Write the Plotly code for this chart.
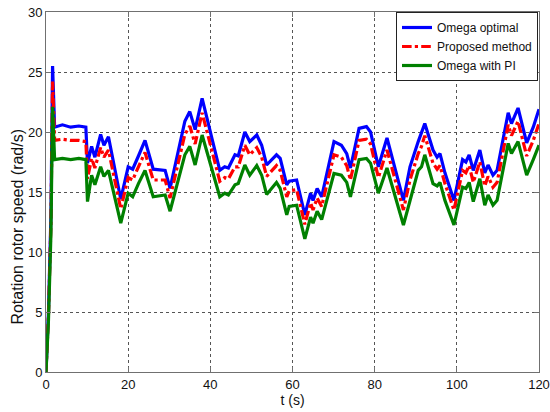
import plotly.graph_objects as go

t = [0, 0.6, 1.2, 1.6, 2.1, 4, 6, 8, 9.7, 10.1, 11.1, 11.9, 13.3, 14.1, 15.2, 18.2, 20, 21.1, 22.5, 24.1,
     26.1, 29, 30.2, 33.8, 35, 36.3, 38, 42.3, 43.5, 44.4, 46, 46.8, 48.4, 49.6, 51.3, 52.5, 53.7, 56.1,
     57, 58.6, 59.2, 61, 63, 64.4, 65, 66, 67.1, 70.1, 71.9, 73.2, 74.1, 76.2, 78, 79, 80.9, 83, 87, 88.6,
     90.6, 91.4, 92.2, 94.2, 95.2, 95.9, 97.1, 99.3, 101.4, 102.2, 103, 104, 105.6, 106.8, 107.6, 108.8,
     109.8, 112.5, 113.3, 114.9, 117, 118.6, 120]

omega_optimal = [0, 5, 13, 25.5, 20.4, 20.6, 20.4, 20.5, 20.4, 17.4, 18.8, 17.9, 19.8, 18.9, 19.6, 14.4, 17.1, 16.9, 18.0, 19.3,
                 16.9, 16.8, 15.3, 20.9, 21.7, 20.2, 22.8, 16.8, 17.1, 17.0, 18.1, 18.0, 20.0, 19.2, 19.75, 18.9, 17.25, 18.1,
                 17.8, 15.6, 15.9, 16.0, 13.1, 14.9, 14.3, 15.3, 14.6, 19.2, 18.9, 18.2, 17.0, 20.3, 20.45, 20.0, 17.1, 19.5, 14.3, 17.1,
                 19.2, 19.9, 20.7, 18.5, 17.9, 18.2, 16.6, 14.3, 17.7, 17.5, 18.1, 16.8, 18.5, 16.6, 17.25, 16.4,
                 16.8, 21.6, 20.7, 22.0, 19.1, 20.4, 21.9]

proposed = [0, 4.7, 12.4, 24.2, 19.3, 19.4, 19.3, 19.3, 19.2, 16.1, 17.8, 17.0, 18.7, 17.9, 18.5, 13.6, 16.2, 16.0, 17.1, 18.3,
            16.0, 16.0, 14.5, 19.8, 20.5, 19.0, 21.6, 15.9, 16.2, 16.1, 17.1, 17.1, 18.9, 18.1, 18.7, 17.9, 16.3, 17.2,
            16.8, 14.6, 15.1, 15.2, 12.3, 14.1, 13.5, 14.5, 13.8, 18.1, 17.9, 17.2, 16.0, 19.3, 19.4, 19.0, 16.2, 18.5, 13.5, 16.0,
            18.2, 18.8, 19.7, 17.4, 16.9, 17.2, 15.7, 13.5, 16.8, 16.6, 17.2, 15.8, 17.5, 15.5, 16.3, 15.4,
            15.8, 20.6, 19.7, 20.9, 18.0, 19.3, 20.7]

omega_pi = [0, 4.3, 11.5, 22.1, 17.7, 17.8, 17.7, 17.8, 17.7, 14.2, 16.4, 15.6, 17.1, 16.3, 16.8, 12.4, 14.9, 14.6, 15.7, 16.8,
            14.6, 14.75, 13.4, 18.1, 18.8, 17.25, 19.75, 14.6, 14.9, 14.75, 15.6, 15.7, 17.25, 16.4, 17.2, 16.4, 14.8, 15.8,
            15.3, 13.1, 13.8, 13.9, 11.1, 12.9, 12.4, 13.4, 12.7, 16.55, 16.4, 15.8, 14.6, 17.7, 17.8, 17.4, 14.9, 17.0, 12.25, 14.3,
            16.8, 17.1, 18.1, 15.7, 15.5, 15.8, 14.3, 12.25, 15.4, 15.3, 15.8, 14.2, 16.1, 13.9, 14.75, 13.9,
            14.3, 19.05, 18.2, 19.2, 16.4, 17.7, 18.9]

x_ticks = [0, 20, 40, 60, 80, 100, 120]
y_ticks = [0, 5, 10, 15, 20, 25, 30]

FONT = "Liberation Sans, Arial"

fig = go.Figure()
fig.add_trace(go.Scatter(x=t, y=omega_optimal, mode="lines", name="Omega optimal",
                         line=dict(color="#0000FF", width=3.2)))
fig.add_trace(go.Scatter(x=t, y=proposed, mode="lines", name="Proposed method",
                         line=dict(color="#FF0000", width=3.2, dash="dashdot")))
fig.add_trace(go.Scatter(x=t, y=omega_pi, mode="lines", name="Omega with PI",
                         line=dict(color="#008000", width=3.2)))

axis_common = dict(showline=True, linecolor="#707070", linewidth=1, mirror="ticks",
                   ticks="inside", ticklen=5, tickcolor="#707070",
                   showgrid=True, gridcolor="#555555", griddash="dot", gridwidth=1,
                   zeroline=False, automargin=False, ticklabeloverflow="allow",
                   tickfont=dict(family=FONT, size=13, color="#111"))

fig.update_xaxes(range=[0, 120], tickvals=x_ticks, ticktext=[str(v) for v in x_ticks],
                 title=dict(text="t (s)", font=dict(family=FONT, size=14, color="#111"), standoff=0),
                 **axis_common)
fig.update_yaxes(range=[0, 30], tickvals=y_ticks, ticktext=[str(v) for v in y_ticks],
                 **axis_common)

fig.add_annotation(text="Rotation rotor speed (rad/s)", textangle=-90,
                   xref="paper", yref="paper", x=-0.058, y=0.405,
                   xanchor="center", yanchor="middle", showarrow=False,
                   font=dict(family=FONT, size=16, color="#111"))

fig.update_layout(
    width=550, height=412,
    margin=dict(l=46, r=11, t=12, b=40),
    plot_bgcolor="white", paper_bgcolor="white",
    showlegend=True,
    legend=dict(x=0.998, y=1, xanchor="right", yanchor="top",
                bgcolor="white", bordercolor="#222", borderwidth=1,
                font=dict(family=FONT, size=12, color="#111"),
                tracegroupgap=0, itemwidth=30),
)

fig.write_html("out.html", config={"displayModeBar": False},
               post_script="document.body.style.margin='0';document.body.style.overflow='hidden';")
